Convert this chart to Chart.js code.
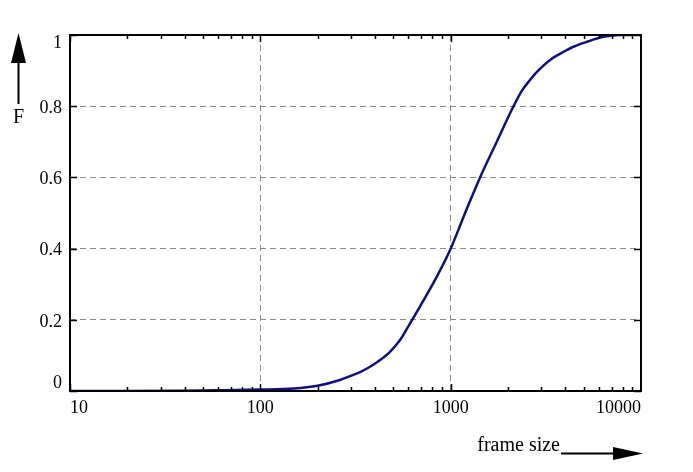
<!DOCTYPE html>
<html>
<head>
<meta charset="utf-8">
<script src="https://cdn.jsdelivr.net/npm/chart.js@4"></script>
<style>
  body { margin: 0; background: #fff; }
  #wrap { width: 693px; height: 472px; position: relative; }
</style>
</head>
<body>
<div id="wrap"><canvas id="cdf-chart"></canvas></div>
<script>
// Data
const frameSizes = [10, 20, 40, 60, 100, 150, 200, 262, 296, 334, 377, 426, 480, 542, 612, 691, 828, 993, 1191, 1427, 1747, 2094, 2364, 2614, 2777, 3330, 3992, 4414, 5200, 6345, 7766, 9000];
const cdfValues  = [0, 0, 0.001, 0.002, 0.004, 0.007, 0.015, 0.031, 0.042, 0.053, 0.068, 0.087, 0.11, 0.143, 0.19, 0.238, 0.312, 0.396, 0.5, 0.6, 0.7, 0.79, 0.843, 0.874, 0.891, 0.93, 0.955, 0.967, 0.981, 0.995, 1, 1];

const xTickValues = [10, 100, 1000, 10000];
const xTickLabels = ['10', '100', '1000', '10000'];
const yTickValues = [0, 0.2, 0.4, 0.6, 0.8, 1];
const yTickLabels = ['0', '0.2', '0.4', '0.6', '0.8', '1'];

const SERIF = '"Liberation Serif", "Times New Roman", serif';
const GRID_GREY = '#8a8a8a';

// Frame, inward ticks, y labels and the arrow labels
const framePlugin = {
    id: 'frame',
    afterDraw(chart) {
        const ctx = chart.ctx;
        const {left, right, top, bottom} = chart.chartArea;
        const xs = chart.scales.x;
        const ys = chart.scales.y;

        ctx.save();
        ctx.setLineDash([]);
        ctx.strokeStyle = '#000';

        // ticks along bottom and top
        ctx.lineWidth = 1.5;
        ctx.beginPath();
        for (let d = 10; d < 10000; d *= 10) {
            for (let m = 1; m <= 9; m++) {
                const px = Math.round(xs.getPixelForValue(d * m)) + 0.5;
                const len = m === 1 ? 7 : 4;
                ctx.moveTo(px, bottom); ctx.lineTo(px, bottom - len);
                ctx.moveTo(px, top); ctx.lineTo(px, top + len);
            }
        }
        // ticks along left and right
        yTickValues.forEach(v => {
            const py = Math.round(ys.getPixelForValue(v)) + 0.5;
            ctx.moveTo(left, py); ctx.lineTo(left + 7, py);
            ctx.moveTo(right, py); ctx.lineTo(right - 7, py);
        });
        ctx.stroke();

        // frame
        ctx.lineWidth = 2;
        ctx.strokeRect(left, top, right - left, bottom - top);

        // y tick labels, end ones pulled inward
        ctx.fillStyle = '#000';
        ctx.font = '18px ' + SERIF;
        ctx.textAlign = 'right';
        ctx.textBaseline = 'middle';
        yTickValues.forEach((v, i) => {
            let py = ys.getPixelForValue(v) + 2;
            if (i === 0) py -= 10;
            if (i === yTickValues.length - 1) py += 6;
            ctx.fillText(yTickLabels[i], left - 8, py);
        });

        // F arrow (up)
        ctx.lineWidth = 2;
        ctx.beginPath();
        ctx.moveTo(18.5, 104); ctx.lineTo(18.5, 55);
        ctx.stroke();
        ctx.beginPath();
        ctx.moveTo(18.5, 33); ctx.lineTo(26, 63); ctx.lineTo(11, 63); ctx.closePath();
        ctx.fill();

        ctx.font = '20px ' + SERIF;
        ctx.textAlign = 'center';
        ctx.textBaseline = 'alphabetic';
        ctx.fillText('F', 18.5, 123);

        // frame size arrow (right)
        ctx.textAlign = 'right';
        ctx.fillText('frame size', 560, 451);
        ctx.beginPath();
        ctx.moveTo(561, 453.5); ctx.lineTo(618, 453.5);
        ctx.stroke();
        ctx.beginPath();
        ctx.moveTo(643, 453.5); ctx.lineTo(613, 447); ctx.lineTo(613, 460); ctx.closePath();
        ctx.fill();

        ctx.restore();
    }
};

const ctx = document.getElementById('cdf-chart').getContext('2d');
const chart = new Chart(ctx, {
    type: 'line',
    data: {
        datasets: [{
            label: 'F',
            data: frameSizes.map((s, i) => ({x: s, y: cdfValues[i]})),
            borderColor: '#0f0f82',
            borderWidth: 2.5,
            pointRadius: 0,
            fill: false,
            cubicInterpolationMode: 'monotone'
        }]
    },
    options: {
        responsive: true,
        maintainAspectRatio: false,
        animation: false,
        layout: {
            padding: {top: 35, right: 52, bottom: 51, left: 0}
        },
        plugins: {
            legend: {display: false},
            tooltip: {enabled: false}
        },
        scales: {
            x: {
                type: 'logarithmic',
                position: 'bottom',
                min: 10,
                max: 10000,
                afterFit(scale) { scale.height = 30; },
                afterBuildTicks(scale) {
                    scale.ticks = xTickValues.map(v => ({value: v}));
                },
                ticks: {
                    autoSkip: false,
                    maxRotation: 0,
                    align: 'inner',
                    padding: 6,
                    color: '#000',
                    font: {family: SERIF, size: 18},
                    callback: (v) => {
                        const i = xTickValues.indexOf(v);
                        return i >= 0 ? xTickLabels[i] : '';
                    }
                },
                grid: {
                    drawTicks: false,
                    lineWidth: 1,
                    color: (c) => (c.tick && (c.tick.value === 100 || c.tick.value === 1000)) ? GRID_GREY : 'rgba(0,0,0,0)'
                },
                border: {display: false, dash: [6, 4]}
            },
            y: {
                min: 0,
                max: 1,
                afterFit(scale) { scale.width = 70; },
                afterBuildTicks(scale) {
                    scale.ticks = yTickValues.map(v => ({value: v}));
                },
                ticks: {display: false},
                grid: {
                    drawTicks: false,
                    lineWidth: 1,
                    color: (c) => (c.tick && c.tick.value > 0.01 && c.tick.value < 0.99) ? GRID_GREY : 'rgba(0,0,0,0)'
                },
                border: {display: false, dash: [6, 4]}
            }
        }
    },
    plugins: [framePlugin]
});
</script>
</body>
</html>
